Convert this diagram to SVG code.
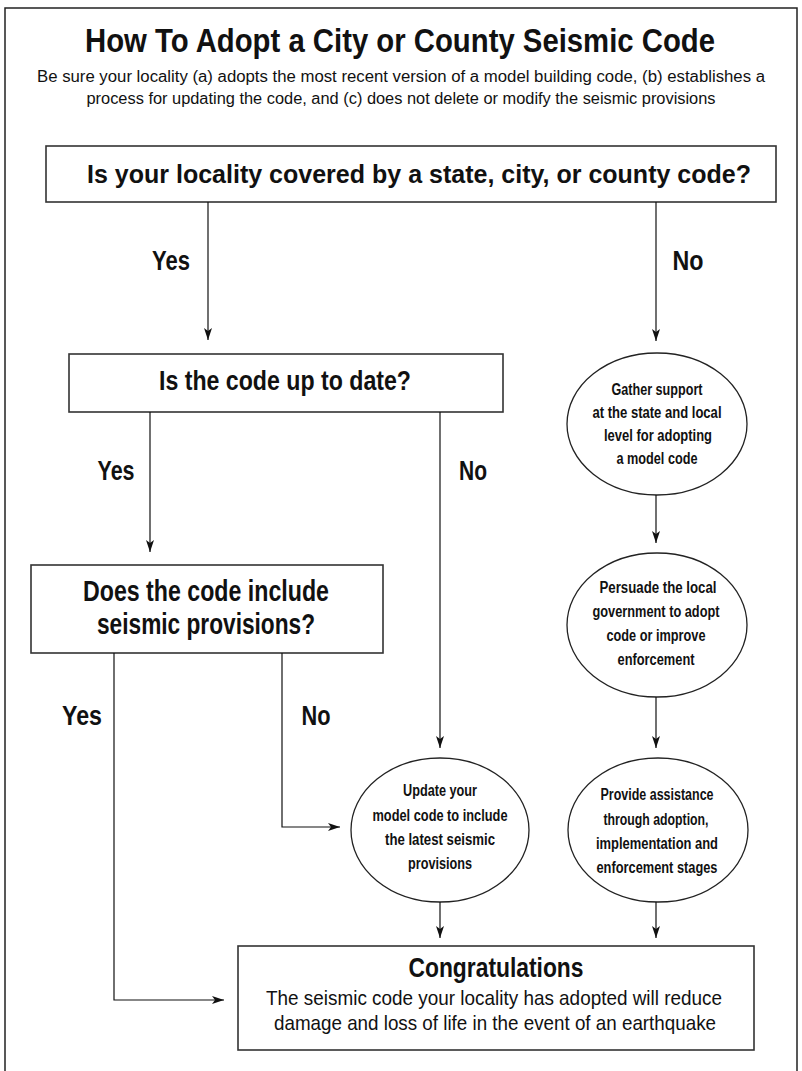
<svg xmlns="http://www.w3.org/2000/svg" width="802" height="1071" viewBox="0 0 802 1071">
  <defs>
    <marker id="ah" viewBox="0 0 12 8" refX="12" refY="4" markerWidth="12" markerHeight="8" markerUnits="userSpaceOnUse" orient="auto">
      <path d="M0,0 L12,4 L0,8 L3,4 z" fill="#111"/>
    </marker>
    <style>
      .frame{fill:none;stroke:#222;stroke-width:1.5}
      .box{fill:#fff;stroke:#333;stroke-width:1.6}
      .oval{fill:#fff;stroke:#222;stroke-width:1.3}
      .con{fill:none;stroke:#111;stroke-width:1.2}
      .t{font-family:"Liberation Sans",Arial,sans-serif;fill:#111;text-anchor:middle}
      .b{font-weight:bold}
      .title{font-size:33px}
      .sub{font-size:16px}
      .q1{font-size:26px}
      .q2{font-size:27px}
      .q3{font-size:30px}
      .lbl{font-size:28px}
      .ot{font-size:16px}
      .cg{font-size:27px}
      .cb{font-size:21px}
    </style>
  </defs>

  <path class="frame" d="M5,1071 V8 H797 V1071"/>

  <g id="header">
    <text class="t b title" x="400" y="52" textLength="630" lengthAdjust="spacingAndGlyphs">How To Adopt a City or County Seismic Code</text>
    <text class="t sub" x="401" y="82" textLength="728" lengthAdjust="spacingAndGlyphs">Be sure your locality (a) adopts the most recent version of a model building code, (b) establishes a</text>
    <text class="t sub" x="401" y="104" textLength="629" lengthAdjust="spacingAndGlyphs">process for updating the code, and (c) does not delete or modify the seismic provisions</text>
  </g>

  <g id="q1">
    <rect class="box" x="46" y="146" width="730" height="56"/>
    <text class="t b q1" x="419" y="183" textLength="664" lengthAdjust="spacingAndGlyphs">Is your locality covered by a state, city, or county code?</text>
  </g>

  <g id="q2">
    <rect class="box" x="69" y="354" width="434" height="58"/>
    <text class="t b q2" x="285" y="390" textLength="252" lengthAdjust="spacingAndGlyphs">Is the code up to date?</text>
  </g>

  <g id="q3">
    <rect class="box" x="31" y="565" width="352" height="88"/>
    <text class="t b q3" x="206" y="601" textLength="246" lengthAdjust="spacingAndGlyphs">Does the code include</text>
    <text class="t b q3" x="206" y="634" textLength="218" lengthAdjust="spacingAndGlyphs">seismic provisions?</text>
  </g>

  <g id="gather">
    <ellipse class="oval" cx="657" cy="424" rx="90" ry="71"/>
    <text class="t b ot" x="657" y="395" textLength="91" lengthAdjust="spacingAndGlyphs">Gather support</text>
    <text class="t b ot" x="657" y="418" textLength="129" lengthAdjust="spacingAndGlyphs">at the state and local</text>
    <text class="t b ot" x="658" y="441" textLength="108" lengthAdjust="spacingAndGlyphs">level for adopting</text>
    <text class="t b ot" x="657" y="464" textLength="81" lengthAdjust="spacingAndGlyphs">a model code</text>
  </g>

  <g id="persuade">
    <ellipse class="oval" cx="657" cy="625" rx="90" ry="72"/>
    <text class="t b ot" x="658" y="593" textLength="117" lengthAdjust="spacingAndGlyphs">Persuade the local</text>
    <text class="t b ot" x="656" y="617" textLength="127" lengthAdjust="spacingAndGlyphs">government to adopt</text>
    <text class="t b ot" x="656" y="641" textLength="99" lengthAdjust="spacingAndGlyphs">code or improve</text>
    <text class="t b ot" x="656" y="665" textLength="77" lengthAdjust="spacingAndGlyphs">enforcement</text>
  </g>

  <g id="update">
    <ellipse class="oval" cx="440" cy="830" rx="89" ry="72"/>
    <text class="t b ot" x="440" y="796" textLength="74" lengthAdjust="spacingAndGlyphs">Update your</text>
    <text class="t b ot" x="440" y="821" textLength="135" lengthAdjust="spacingAndGlyphs">model code to include</text>
    <text class="t b ot" x="440" y="845" textLength="110" lengthAdjust="spacingAndGlyphs">the latest seismic</text>
    <text class="t b ot" x="440" y="869" textLength="64" lengthAdjust="spacingAndGlyphs">provisions</text>
  </g>

  <g id="provide">
    <ellipse class="oval" cx="658" cy="830" rx="90" ry="72"/>
    <text class="t b ot" x="657" y="800" textLength="113" lengthAdjust="spacingAndGlyphs">Provide assistance</text>
    <text class="t b ot" x="656" y="825" textLength="105" lengthAdjust="spacingAndGlyphs">through adoption,</text>
    <text class="t b ot" x="657" y="849" textLength="122" lengthAdjust="spacingAndGlyphs">implementation and</text>
    <text class="t b ot" x="657" y="873" textLength="121" lengthAdjust="spacingAndGlyphs">enforcement stages</text>
  </g>

  <g id="congrats">
    <rect class="box" x="238" y="946" width="516" height="104"/>
    <text class="t b cg" x="496" y="977" textLength="175" lengthAdjust="spacingAndGlyphs">Congratulations</text>
    <text class="t cb" x="494" y="1005" textLength="456" lengthAdjust="spacingAndGlyphs">The seismic code your locality has adopted will reduce</text>
    <text class="t cb" x="495" y="1030" textLength="442" lengthAdjust="spacingAndGlyphs">damage and loss of life in the event of an earthquake</text>
  </g>

  <g id="connectors">
    <path class="con" d="M208,202 V340" marker-end="url(#ah)"/>
    <path class="con" d="M656,202 V341" marker-end="url(#ah)"/>
    <path class="con" d="M150,412 V552" marker-end="url(#ah)"/>
    <path class="con" d="M440,412 V748" marker-end="url(#ah)"/>
    <path class="con" d="M114,653 V1000 H224" marker-end="url(#ah)"/>
    <path class="con" d="M282,653 V827 H340" marker-end="url(#ah)"/>
    <path class="con" d="M656,495 V543" marker-end="url(#ah)"/>
    <path class="con" d="M656,697 V748" marker-end="url(#ah)"/>
    <path class="con" d="M440,902 V938" marker-end="url(#ah)"/>
    <path class="con" d="M656,902 V938" marker-end="url(#ah)"/>
    <text class="t b lbl" x="171" y="270" textLength="38" lengthAdjust="spacingAndGlyphs">Yes</text>
    <text class="t b lbl" x="688" y="270" textLength="31" lengthAdjust="spacingAndGlyphs">No</text>
    <text class="t b lbl" x="116" y="480" textLength="37" lengthAdjust="spacingAndGlyphs">Yes</text>
    <text class="t b lbl" x="473" y="480" textLength="28" lengthAdjust="spacingAndGlyphs">No</text>
    <text class="t b lbl" x="82" y="725" textLength="40" lengthAdjust="spacingAndGlyphs">Yes</text>
    <text class="t b lbl" x="316" y="725" textLength="29" lengthAdjust="spacingAndGlyphs">No</text>
  </g>
</svg>
